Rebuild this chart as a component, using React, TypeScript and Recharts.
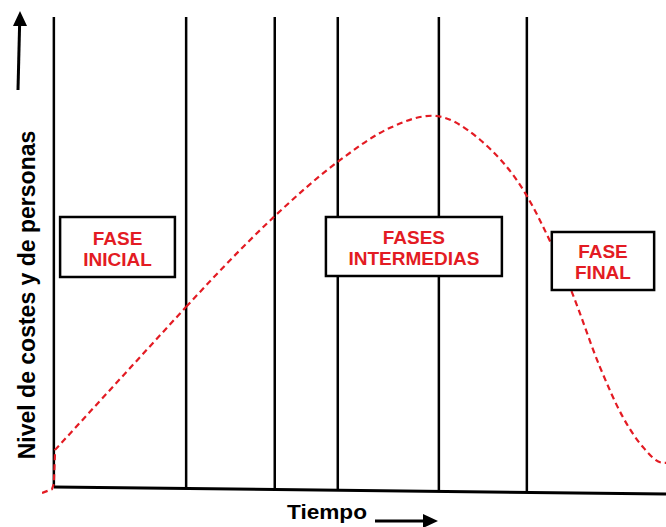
import React from "react";
import {
  Customized,
  Line,
  LineChart,
  ReferenceArea,
  ReferenceLine,
  XAxis,
  YAxis,
} from "recharts";

// curve: time (0-100) vs level (0-100)
const time = [0, 1.6, 1.9, 2.1, 23.1, 32.1, 37.3, 47.4, 55.8, 62.5, 70.2, 77.7, 81.4, 84.9, 89.4, 93.1, 96.3, 99.5, 100];
const level = [0.2, 1.0, 2.1, 9.2, 39.0, 51.3, 57.9, 69.2, 76.3, 78.8, 73.8, 62.1, 52.7, 42.1, 26.5, 16.0, 9.8, 6.5, 6.5];
// the start is straight segments, the rest is smooth
const straightUntil = 4;

// vertical phase dividers (time)
const phaseBounds = [1.9, 23.1, 37.3, 47.4, 63.6, 77.7];
const dividerTop = 99.4;

// slanted time axis: from / to
const baseTime = [1.9, 100];
const baseLevel = [1.46, 0];

const phaseNames = [["FASE", "INICIAL"], ["FASES", "INTERMEDIAS"], ["FASE", "FINAL"]];

const yTitle = "Nivel de costes y de personas";
const xTitle = "Tiempo";

// box placement for the phase labels, in chart units
const boxes = [
  { x1: 2.9, x2: 21.3, y1: 45.2, y2: 57.7 },
  { x1: 45.5, x2: 73.7, y1: 45.4, y2: 57.7 },
  { x1: 81.7, x2: 98.1, y1: 42.5, y2: 54.6 },
];

const RED = "#e31b23";

const data = time.map((t, i) => ({
  t,
  rise: i <= straightUntil ? level[i] : null,
  curve: i >= straightUntil ? level[i] : null,
}));

const baseAt = (t: number) =>
  baseLevel[0] + ((t - baseTime[0]) * (baseLevel[1] - baseLevel[0])) / (baseTime[1] - baseTime[0]);

function BoxLabel({ viewBox, lines }: any) {
  const { x, y, width, height } = viewBox;
  const cx = x + width / 2;
  const cy = y + height / 2 + 1;
  return (
    <g>
      {lines.map((s: string, i: number) => (
        <text
          key={s}
          x={cx}
          y={cy + (i - 0.5) * 21 + 7}
          textAnchor="middle"
          fill={RED}
          fontSize={19}
          fontWeight="bold"
          fontFamily="'Liberation Sans', Arial, sans-serif"
        >
          {s}
        </text>
      ))}
    </g>
  );
}

function Decorations() {
  const font = "'Liberation Sans', Arial, sans-serif";
  return (
    <g>
      <text
        x={35}
        y={295}
        transform="rotate(-90, 35, 295)"
        textAnchor="middle"
        fontSize={23}
        fontWeight="bold"
        fontFamily={font}
        fill="#000"
      >
        {yTitle}
      </text>
      <line x1={18} y1={90} x2={19.6} y2={25} stroke="#000" strokeWidth={3} />
      <polygon points="20,11 13,26 27,26" fill="#000" />
      <text
        x={287}
        y={519}
        fontSize={21}
        fontWeight="bold"
        fontFamily={font}
        textLength={80}
        lengthAdjust="spacingAndGlyphs"
        fill="#000"
      >
        {xTitle}
      </text>
      <line x1={375} y1={521} x2={424} y2={521} stroke="#000" strokeWidth={3} />
      <polygon points="438,521 423,514 423,528" fill="#000" />
    </g>
  );
}

export default function App() {
  return (
    <div style={{ position: "absolute", left: 0, top: 0, background: "#fff" }}>
      <LineChart
        width={666}
        height={527}
        data={data}
        margin={{ top: 14, right: 0, bottom: 33, left: 42 }}
      >
        <XAxis dataKey="t" type="number" domain={[0, 100]} hide allowDataOverflow />
        <YAxis type="number" domain={[0, 100]} hide allowDataOverflow />
        {phaseBounds.map((t) => (
          <ReferenceLine
            key={t}
            segment={[
              { x: t, y: baseAt(t) },
              { x: t, y: dividerTop },
            ]}
            stroke="#000"
            strokeWidth={2.5}
          />
        ))}
        <ReferenceLine
          segment={[
            { x: baseTime[0], y: baseLevel[0] },
            { x: baseTime[1], y: baseLevel[1] },
          ]}
          stroke="#000"
          strokeWidth={3}
        />
        <Line
          type="linear"
          dataKey="rise"
          stroke={RED}
          strokeWidth={2.2}
          strokeDasharray="6 4"
          dot={false}
          activeDot={false}
          isAnimationActive={false}
        />
        <Line
          type="monotone"
          dataKey="curve"
          stroke={RED}
          strokeWidth={2.2}
          strokeDasharray="6 4"
          dot={false}
          activeDot={false}
          isAnimationActive={false}
        />
        {boxes.map((b, i) => (
          <ReferenceArea
            key={i}
            x1={b.x1}
            x2={b.x2}
            y1={b.y1}
            y2={b.y2}
            fill="#fff"
            fillOpacity={1}
            stroke="#000"
            strokeWidth={2.5}
            zIndex={1500}
            label={(props: any) => <BoxLabel {...props} lines={phaseNames[i]} />}
          />
        ))}
        <Customized component={Decorations} />
      </LineChart>
    </div>
  );
}
